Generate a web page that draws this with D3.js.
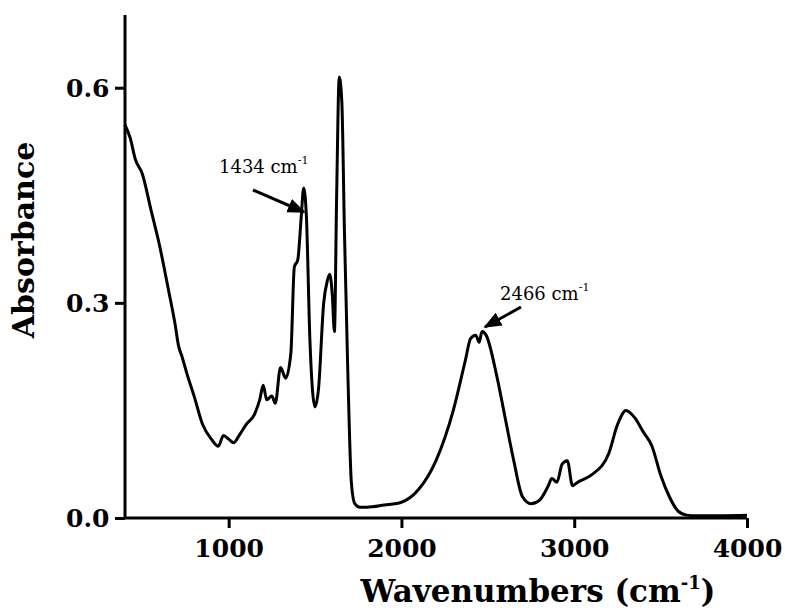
<!DOCTYPE html>
<html><head><meta charset="utf-8">
<script src="https://cdn.jsdelivr.net/npm/d3@7"></script>
<style>body{margin:0;background:#fff}text{font-family:"DejaVu Serif",serif}</style>
</head><body><div id="chart"></div>
<script>
// spectrum
var wave = [400,430,460,500,550,600,650,690,710,730,760,800,850,900,940,970,1000,1030,1060,1100,1150,1180,1200,1220,1250,1270,1300,1330,1360,1380,1400,1420,1434,1450,1470,1500,1520,1550,1570,1585,1600,1612,1625,1640,1655,1670,1690,1710,1730,1760,1800,1900,2000,2100,2200,2300,2370,2400,2430,2450,2466,2490,2550,2600,2650,2700,2750,2800,2850,2870,2900,2930,2960,2990,3020,3100,3200,3250,3300,3350,3400,3450,3500,3550,3600,3650,3700,4000];
var absorb = [0.548,0.53,0.50,0.48,0.43,0.38,0.32,0.27,0.24,0.225,0.20,0.17,0.13,0.11,0.10,0.115,0.11,0.105,0.115,0.13,0.145,0.165,0.185,0.165,0.17,0.16,0.21,0.195,0.23,0.35,0.36,0.42,0.46,0.42,0.25,0.155,0.18,0.30,0.33,0.34,0.31,0.26,0.45,0.615,0.58,0.40,0.20,0.05,0.02,0.015,0.015,0.018,0.022,0.04,0.08,0.15,0.22,0.25,0.255,0.245,0.26,0.255,0.20,0.14,0.08,0.03,0.02,0.025,0.045,0.055,0.05,0.075,0.08,0.045,0.05,0.06,0.09,0.13,0.15,0.14,0.12,0.10,0.06,0.03,0.01,0.004,0.003,0.004];
var xTicks = [1000,2000,3000,4000];
var yTicks = [0.0,0.3,0.6];

var width = 785, height = 613;
var svg = d3.select("#chart").append("svg").attr("width", width).attr("height", height);

var x = d3.scaleLinear().domain([400, 4000]).range([125, 747]);
var y = d3.scaleLinear().domain([0, 0.7]).range([518, 16]);

svg.append("defs").append("marker").attr("id","arr").attr("viewBox","0 0 10 10")
  .attr("refX",9).attr("refY",5).attr("markerWidth",6).attr("markerHeight",6).attr("orient","auto")
  .append("path").attr("d","M0,1L10,5L0,9z").attr("fill","#000");

var xAxis = svg.append("g").attr("transform","translate(0,518)")
  .call(d3.axisBottom(x).tickValues(xTicks).tickSize(10).tickFormat(d3.format("d")));
var yAxis = svg.append("g").attr("transform","translate(125,0)")
  .call(d3.axisLeft(y).tickValues(yTicks).tickSize(10).tickFormat(d3.format(".1f")));
[xAxis, yAxis].forEach(function(a){
  a.select(".domain").attr("stroke-width",3);
  a.selectAll(".tick line").attr("stroke-width",3);
  a.selectAll("text").attr("font-size",25).attr("font-weight","bold")
    .attr("font-family","'DejaVu Serif',serif").attr("fill","#000");
});
xAxis.selectAll("text").attr("dy","1.05em");
yAxis.selectAll("text").attr("dx","-0.1em").attr("dy","0.35em");
xAxis.select(".domain").attr("d","M125,0H747");
yAxis.select(".domain").attr("d","M0,518V15");

var line = d3.line().x(function(d,i){return x(wave[i]);}).y(function(d){return y(d);}).curve(d3.curveMonotoneX);
svg.append("path").datum(absorb).attr("d", line).attr("fill","none").attr("stroke","#000").attr("stroke-width",3);

svg.append("text").attr("transform","translate(34,240) rotate(-90)").attr("text-anchor","middle")
  .attr("font-size",30).attr("font-weight","bold").text("Absorbance");
var xt = svg.append("text").attr("x",538).attr("y",602).attr("text-anchor","middle").attr("font-size",31).attr("font-weight","bold");
xt.append("tspan").text("Wavenumbers (cm");
xt.append("tspan").attr("dy",-13).attr("font-size",18).text("-1");
xt.append("tspan").attr("dy",13).text(")");

function note(tx, ty, x1, y1, x2, y2, label) {
  var t = svg.append("text").attr("x",tx).attr("y",ty).attr("font-size",18)
    .attr("font-family","'Liberation Serif',serif");
  t.append("tspan").text(label + " cm");
  t.append("tspan").attr("dy",-9).attr("font-size",11).text("-1");
  svg.append("line").attr("x1",x1).attr("y1",y1).attr("x2",x2).attr("y2",y2)
    .attr("stroke","#000").attr("stroke-width",3).attr("marker-end","url(#arr)");
}
note(219,173,253,190,304,212,"1434");
note(500,300,521,307,485,327,"2466");
</script></body></html>
